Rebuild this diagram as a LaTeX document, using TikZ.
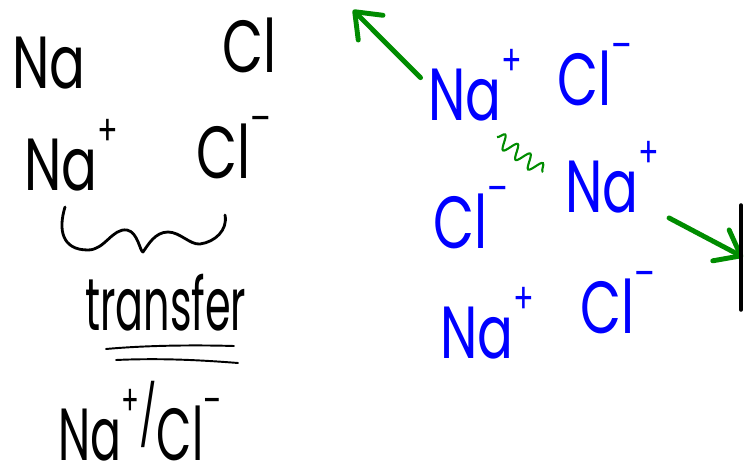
\documentclass[tikz,border=0pt]{standalone}
\usepackage{fontspec}
\setmainfont{Poppins}
\usetikzlibrary{arrows.meta, decorations.pathmorphing}

\definecolor{inkgreen}{RGB}{0,140,0}
\definecolor{inkblue}{RGB}{0,0,255}
\newcommand\hw[2][0.72]{\scalebox{#1}[1]{#2}}
\newcommand\chg[1]{\raisebox{0.6em}{\fontsize{24}{24}\selectfont #1}}
\newcommand\slashmark{\raisebox{0.3em}{\fontsize{34}{34}\selectfont /}}

\tikzset{
  ink/.style={font=\fontsize{42}{42}\selectfont, inner sep=0pt, anchor=base west},
  ion/.style={ink, text=inkblue},
  pen/.style={line width=1.6pt, line cap=round, line join=round},
  push/.style={inkgreen, line width=2.8pt, line cap=round,
    -{Straight Barb[length=4.5mm, width=7mm, round]}},
  wiggle/.style={inkgreen, line width=1.2pt, decorate,
    decoration={snake, amplitude=4pt, segment length=9pt}},
}

\begin{document}
\begin{tikzpicture}[x=0.02cm, y=-0.02cm]
    \useasboundingbox (0,0) rectangle (747,470);

    % atoms, then ions
    \node[ink] (na) at (12,88) {\hw{Na}};
    \node[ink] (cl) at (222,72) {\hw{Cl}};
    \node[ink] (nap) at (24,190) {\hw{Na\chg{+}}};
    \node[ink] (clm) at (196,178) {\hw{Cl\chg{--}}};

    % squiggle under the ions
    \draw[pen] (65,207) .. controls (58,230) and (62,250) .. (88,250)
        .. controls (105,250) and (112,228) .. (127,230)
        .. controls (138,232) and (140,252) .. (143,252)
        .. controls (148,245) and (155,232) .. (168,232)
        .. controls (180,232) and (190,245) .. (200,244)
        .. controls (215,242) and (228,230) .. (225,215);

    \node[ink] (trans) at (85,330) {\hw[0.56]{transfer}};
    \draw[pen, line width=1.1pt] (106,349) .. controls (150,345) and (200,345) .. (234,346);
    \draw[pen, line width=1.1pt] (116,360) .. controls (160,358) and (200,360) .. (238,363);

    \node[ink] (salt) at (58,460) {\hw[0.62]{Na\chg{+}\slashmark Cl\chg{--}}};

    % the lattice
    \node[ion] (lat1) at (428,120) {\hw{Na\chg{+}}};
    \node[ion] (lat2) at (557,105) {\hw{Cl\chg{--}}};
    \node[ion] (lat3) at (565,212) {\hw{Na\chg{+}}};
    \node[ion] (lat4) at (433,248) {\hw{Cl\chg{--}}};
    \node[ion] (lat5) at (440,358) {\hw{Na\chg{+}}};
    \node[ion] (lat6) at (580,333) {\hw{Cl\chg{--}}};

    \coordinate (w1) at (497,137);
    \coordinate (w2) at (543,172);
    \draw[wiggle] (w1) -- (w2);

    % pushed apart
    \coordinate (out1) at (353,10);
    \coordinate (out2) at (743,257);
    \draw[push, shorten <=6pt] (lat1.west) -- (out1);
    \draw[push, shorten <=6pt] (lat3.south east) -- (out2);

    \draw[pen, line width=2pt] (741,205) -- (741,310);
\end{tikzpicture}
\end{document}
